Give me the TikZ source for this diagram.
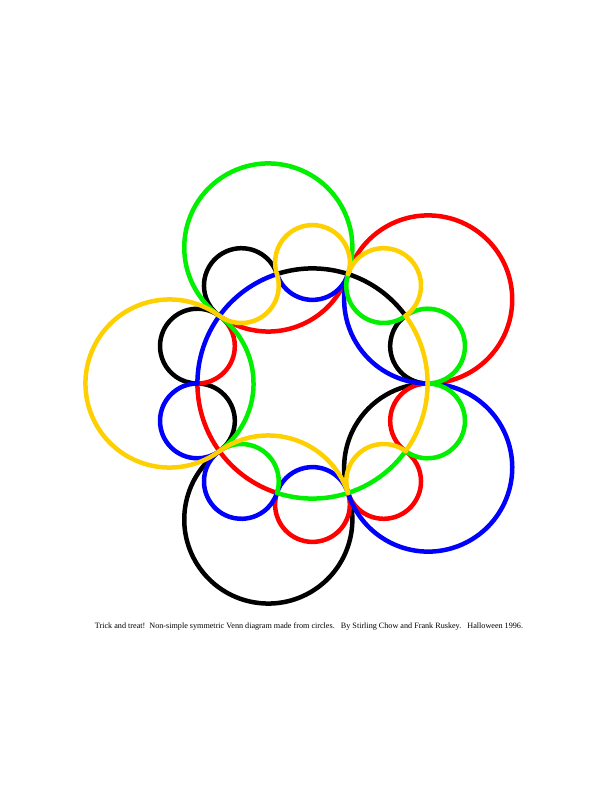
\documentclass[tikz,border=0pt]{standalone}
\usepackage{fontspec}
\setmainfont{Liberation Serif}
\definecolor{cyel}{RGB}{255,208,0}
\definecolor{cgrn}{RGB}{0,240,0}
\definecolor{cred}{RGB}{255,0,0}
\definecolor{cblu}{RGB}{0,0,255}
\definecolor{cblk}{RGB}{0,0,0}
\pgfmathsetmacro\Rs{121}
\pgfmathsetmacro\rs{\Rs*sin(18)}
\pgfmathsetmacro\ring{\Rs*cos(18)}
\pgfmathsetmacro\D{143}
\pgfmathsetmacro\al{180-atan((\ring*sin(36))/(\D-\ring*cos(36)))}
\pgfmathsetmacro\rb{sqrt((\ring*sin(36))^2+(\D-\ring*cos(36))^2)}
\begin{document}
\begin{tikzpicture}[x=1pt,y=1pt,curve/.style={line width=4.5pt,line cap=round,line join=round}]
\useasboundingbox (-312.5,-408.5) rectangle (299.5,383.5);
\fill[white] (-312.5,-408.5) rectangle (299.5,383.5);
\foreach \col/\m in {cblk/4,cred/2,cblu/3,cgrn/1,cyel/0}{
  \pgfmathsetmacro\t{-72*\m}
  % big circle, outer arc
  \draw[curve,\col] ({180+\t}:\D pt) ++({180+\t-\al}:\rb pt) arc[start angle={180+\t-\al}, end angle={180+\t+\al}, radius=\rb pt];
  % neighbouring big circle, inner arc
  \draw[curve,\col] ({252+\t}:\D pt) ++({252+\t+\al}:\rb pt) arc[start angle={252+\t+\al}, end angle={252+\t+360-\al}, radius=\rb pt];
  % small circle, inner arc
  \draw[curve,\col] ({306+\t}:\Rs pt) ++({414+\t}:\rs pt) arc[start angle={414+\t}, end angle={558+\t}, radius=\rs pt];
  % central ring arcs
  \draw[curve,\col] (0,0) ++({324+\t}:\ring pt) arc[start angle={324+\t}, end angle={396+\t}, radius=\ring pt];
  % small circle, outer arc
  \draw[curve,\col] ({54+\t}:\Rs pt) ++({-54+\t}:\rs pt) arc[start angle={-54+\t}, end angle={162+\t}, radius=\rs pt];
  % small circle, outer arc
  \draw[curve,\col] ({90+\t}:\Rs pt) ++({-18+\t}:\rs pt) arc[start angle={-18+\t}, end angle={198+\t}, radius=\rs pt];
  % small circle, inner arc
  \draw[curve,\col] ({126+\t}:\Rs pt) ++({234+\t}:\rs pt) arc[start angle={234+\t}, end angle={378+\t}, radius=\rs pt];
}
\node[font=\fontsize{8.15}{10}\selectfont, inner sep=0pt] (cap) at (-3.5,-243.5) {Trick and treat!\ \ Non-simple symmetric Venn diagram made from circles.\ \ \ By Stirling Chow and Frank Ruskey.\ \ \ Halloween 1996.};
\end{tikzpicture}
\end{document}
